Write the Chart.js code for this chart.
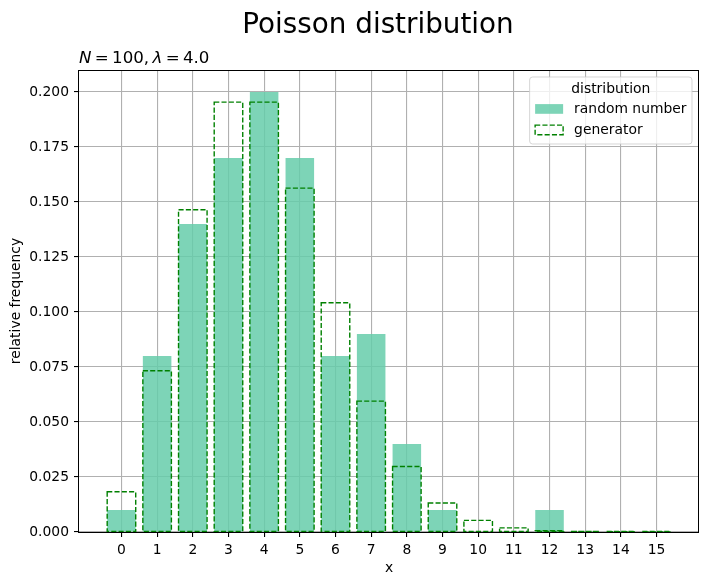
<!DOCTYPE html>
<html>
<head>
<meta charset="utf-8">
<script src="https://cdn.jsdelivr.net/npm/chart.js@4.4.1/dist/chart.umd.min.js"></script>
<style>
  html, body { margin: 0; padding: 0; background: #fff; }
  #wrap { width: 709px; height: 585px; position: relative; }
</style>
</head>
<body>
<div id="wrap"><canvas id="c" width="709" height="585"></canvas></div>
<script>
// ---- data ----
const chartTitle = 'Poisson distribution';
const xValues = [0, 1, 2, 3, 4, 5, 6, 7, 8, 9, 10, 11, 12, 13, 14, 15];
const xTickLabels = ['0','1','2','3','4','5','6','7','8','9','10','11','12','13','14','15'];
const randomFreq = [0.01, 0.08, 0.14, 0.17, 0.20, 0.17, 0.08, 0.09, 0.04, 0.01, 0.0, 0.0, 0.01, 0.0, 0.0, 0.0];
const generatorProb = [0.0183, 0.0733, 0.1465, 0.1954, 0.1954, 0.1563, 0.1042, 0.0595, 0.0298, 0.0132, 0.0053, 0.0019, 0.0006, 0.0002, 0.0001, 0.00002];
const yTicks = [0, 0.025, 0.05, 0.075, 0.1, 0.125, 0.15, 0.175, 0.2];
const seriesLabels = ['random number', 'generator'];
const legendTitle = 'distribution';
const subtitleParts = [['N', true], ['\u2009=\u2009100,\u2009', false], ['λ', true], ['\u2009=\u20094.0', false]];

const FONT = "'DejaVu Sans', sans-serif";
const FS = 13.89;
const barFill = 'rgba(102, 205, 170, 0.85)';
const genColor = '#008000';
const dashPattern = [5.1, 2.2];

Chart.defaults.font.family = FONT;
Chart.defaults.font.size = FS;
Chart.defaults.color = '#000';

const overlayPlugin = {
  id: 'overlay',
  afterDatasetsDraw(chart) {
    const ctx = chart.ctx;
    const area = chart.chartArea;
    // dashed generator bars
    const meta = chart.getDatasetMeta(1);
    ctx.save();
    ctx.beginPath();
    ctx.rect(area.left, area.top - 2, area.right - area.left, area.bottom - area.top + 4);
    ctx.clip();
    ctx.strokeStyle = genColor;
    ctx.lineWidth = 1.39;
    ctx.setLineDash(dashPattern);
    meta.data.forEach(el => {
      const p = el.getProps(['x', 'y', 'base', 'width'], true);
      const left = p.x - p.width / 2;
      ctx.strokeRect(left, p.y, p.width, p.base - p.y);
    });
    ctx.restore();
    // frame (spines), pixel aligned
    ctx.save();
    ctx.strokeStyle = '#000';
    ctx.lineWidth = 1;
    const l = Math.round(area.left) - 0.5, t = Math.round(area.top) + 0.5;
    const r = Math.round(area.right) - 0.5, b = Math.round(area.bottom) + 0.5;
    ctx.strokeRect(l, t, r - l, b - t);
    ctx.restore();
  },
  afterDraw(chart) {
    const ctx = chart.ctx;
    const area = chart.chartArea;
    ctx.save();
    // title
    ctx.fillStyle = '#000';
    ctx.font = `27.8px ${FONT}`;
    ctx.textAlign = 'center';
    ctx.textBaseline = 'alphabetic';
    ctx.fillText(chartTitle, 378, 33);
    // subtitle (left aligned, mixed italic)
    let sx = area.left;
    const sy = area.top - 7;
    ctx.textAlign = 'left';
    subtitleParts.forEach(([t, it]) => {
      ctx.font = `${it ? 'italic ' : ''}16.67px ${FONT}`;
      ctx.fillText(t, sx, sy);
      sx += ctx.measureText(t).width;
    });
    // legend
    ctx.font = `${FS}px ${FONT}`;
    const pad = 5.5, handle = 28, tpad = 11;
    const textW = Math.max(...seriesLabels.map(s => ctx.measureText(s).width));
    const titleW = ctx.measureText(legendTitle).width;
    const w = Math.max(pad + handle + tpad + textW + pad, titleW + 2 * pad);
    const h = 67;
    const right = area.right - 7;
    const top = area.top + 7;
    const left = right - w;
    ctx.beginPath();
    ctx.roundRect(left, top, w, h, 3);
    ctx.fillStyle = 'rgba(255,255,255,0.8)';
    ctx.fill();
    ctx.strokeStyle = 'rgba(204,204,204,0.8)';
    ctx.lineWidth = 1;
    ctx.stroke();
    ctx.fillStyle = '#000';
    ctx.textBaseline = 'middle';
    ctx.textAlign = 'center';
    ctx.fillText(legendTitle, left + w / 2, top + 12.5);
    ctx.textAlign = 'left';
    const rows = [top + 32, top + 53];
    // row 1: filled patch
    ctx.fillStyle = barFill;
    ctx.fillRect(left + pad, rows[0] - 4.9, handle, 9.7);
    ctx.fillStyle = '#000';
    ctx.fillText(seriesLabels[0], left + pad + handle + tpad, rows[0]);
    // row 2: dashed patch
    ctx.strokeStyle = genColor;
    ctx.lineWidth = 1.39;
    ctx.setLineDash(dashPattern);
    ctx.strokeRect(left + pad, rows[1] - 4.9, handle, 9.7);
    ctx.setLineDash([]);
    ctx.fillText(seriesLabels[1], left + pad + handle + tpad, rows[1]);
    ctx.restore();
  }
};

new Chart(document.getElementById('c'), {
  type: 'bar',
  data: {
    datasets: [
      {
        label: seriesLabels[0],
        data: xValues.map((x, i) => ({ x: x, y: randomFreq[i] })),
        backgroundColor: barFill,
        borderWidth: 0,
        grouped: false,
        categoryPercentage: 1.0,
        barPercentage: 0.8
      },
      {
        label: seriesLabels[1],
        data: xValues.map((x, i) => ({ x: x, y: generatorProb[i] })),
        backgroundColor: 'rgba(0,0,0,0)',
        borderWidth: 0,
        grouped: false,
        categoryPercentage: 1.0,
        barPercentage: 0.8
      }
    ]
  },
  options: {
    responsive: false,
    animation: false,
    events: [],
    layout: { padding: { left: 0, right: 10, top: 70, bottom: 0 } },
    plugins: {
      legend: { display: false },
      tooltip: { enabled: false },
      title: { display: false }
    },
    scales: {
      x: {
        type: 'linear',
        offset: false,
        min: -1.19,
        max: 16.19,
        afterFit(scale) { scale.height = 53; },
        afterBuildTicks(scale) { scale.ticks = xValues.map(v => ({ value: v })); },
        ticks: {
          autoSkip: false,
          maxRotation: 0,
          padding: 5,
          color: '#000',
          callback: (v) => { const i = xValues.indexOf(v); return i >= 0 ? xTickLabels[i] : ''; }
        },
        grid: { offset: false, color: '#b0b0b0', lineWidth: 1.1, tickColor: '#000', tickLength: 5, tickWidth: 1.1 },
        border: { display: false },
        title: { display: true, text: 'x', color: '#000', padding: { top: 0, bottom: 8 } }
      },
      y: {
        type: 'linear',
        min: 0,
        max: 0.21,
        afterFit(scale) { scale.width = 79; },
        afterBuildTicks(scale) { scale.ticks = yTicks.map(v => ({ value: v })); },
        ticks: {
          padding: 5,
          color: '#000',
          callback: (v) => v.toFixed(3)
        },
        grid: { color: '#b0b0b0', lineWidth: 1.1, tickColor: '#000', tickLength: 5, tickWidth: 1.1 },
        border: { display: false },
        title: { display: true, text: 'relative frequency', color: '#000', padding: { top: 8, bottom: 4 } }
      }
    }
  },
  plugins: [overlayPlugin]
});
</script>
</body>
</html>
